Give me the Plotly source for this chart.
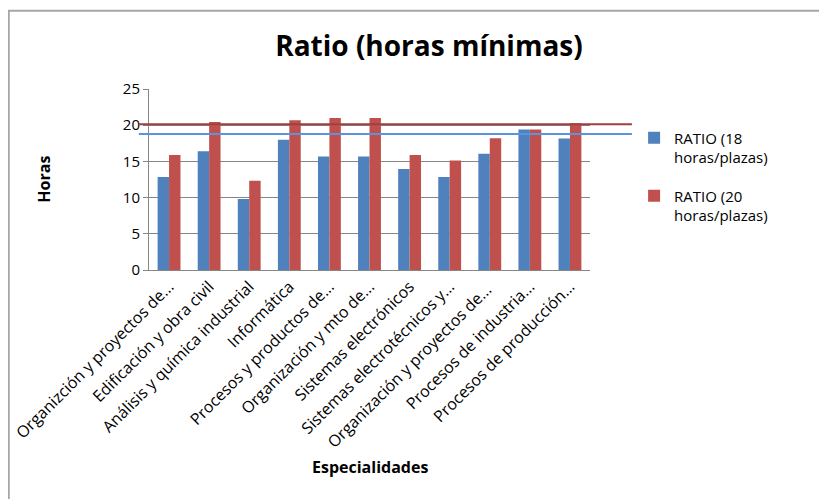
import plotly.graph_objects as go

categories = [
    "Organizción y proyectos de...",
    "Edificación y obra civil",
    "Análisis y química industrial",
    "Informática",
    "Procesos y productos de...",
    "Organización y mto de...",
    "Sistemas electrónicos",
    "Sistemas electrotécnicos y...",
    "Organización y proyectos de... ",
    "Procesos de industria...",
    "Procesos de producción...",
]
ratio_18 = [12.85, 16.4, 9.8, 17.98, 15.68, 15.68, 13.95, 12.85, 16.05, 19.4, 18.16]
ratio_20 = [15.87, 20.45, 12.34, 20.68, 21.0, 21.0, 15.87, 15.13, 18.2, 19.4, 20.27]
ref_18 = 18.8
ref_20 = 20.14
y_ticks = [0, 5, 10, 15, 20, 25]

FONT = "Open Sans"

fig = go.Figure()
fig.add_trace(go.Bar(x=categories, y=ratio_18, name="RATIO (18<br>horas/plazas)",
                     legendgroup="g18",
                     marker=dict(color="#4F81BD", line=dict(width=0))))
fig.add_trace(go.Bar(x=categories, y=ratio_20, name="RATIO (20<br>horas/plazas)",
                     legendgroup="g20",
                     marker=dict(color="#C0504D", line=dict(width=0))))

# horizontal reference lines
fig.add_shape(type="line", xref="paper", yref="y", x0=-0.023, x1=1.095, y0=ref_20, y1=ref_20,
              line=dict(color="#A0403E", width=2))
fig.add_shape(type="line", xref="paper", yref="y", x0=-0.023, x1=1.095, y0=ref_18, y1=ref_18,
              line=dict(color="#5B93DC", width=2))
# outer border
fig.add_shape(type="rect", xref="paper", yref="paper", x0=-0.318, x1=1.6, y0=-1.3, y1=1.432,
              line=dict(color="#A6A6A6", width=2), fillcolor="rgba(0,0,0,0)", layer="below")

fig.update_layout(
    width=819, height=491,
    margin=dict(l=141, r=237, t=81, b=229, autoexpand=False),
    paper_bgcolor="white", plot_bgcolor="white",
    font=dict(family=FONT, color="#000000", size=15),
    barmode="group", bargap=0.43, bargroupgap=0,
    title=dict(text="<b>Ratio (horas mínimas)</b>", x=0.514, xanchor="center",
               y=0.922, yanchor="middle", font=dict(size=28, family=FONT, color="#000000")),
    showlegend=True,
    legend=dict(x=1.10, y=0.82, xanchor="left", yanchor="top", font=dict(size=15),
                bgcolor="rgba(0,0,0,0)", tracegroupgap=16, itemwidth=30, valign="top"),
    xaxis=dict(tickangle=-45, showline=True, linecolor="#868686", linewidth=1,
               showgrid=False, ticks="", tickfont=dict(size=16), automargin=False),
    yaxis=dict(range=[0, 25], tickvals=y_ticks, showline=True, linecolor="#868686", linewidth=1,
               showgrid=True, gridcolor="#868686", gridwidth=1, ticks="outside", ticklen=5,
               tickcolor="#868686", tickfont=dict(size=15), zeroline=False, automargin=False),
    annotations=[
        dict(text="<b>Horas</b>", xref="paper", yref="paper", x=-0.24, y=0.5, textangle=-90,
             xanchor="center", yanchor="middle", showarrow=False, font=dict(size=16)),
        dict(text="<b>Especialidades</b>", xref="paper", yref="paper", x=0.50, y=-1.088,
             xanchor="center", yanchor="middle", showarrow=False, font=dict(size=16)),
    ],
)

fig.write_html("out.html")
